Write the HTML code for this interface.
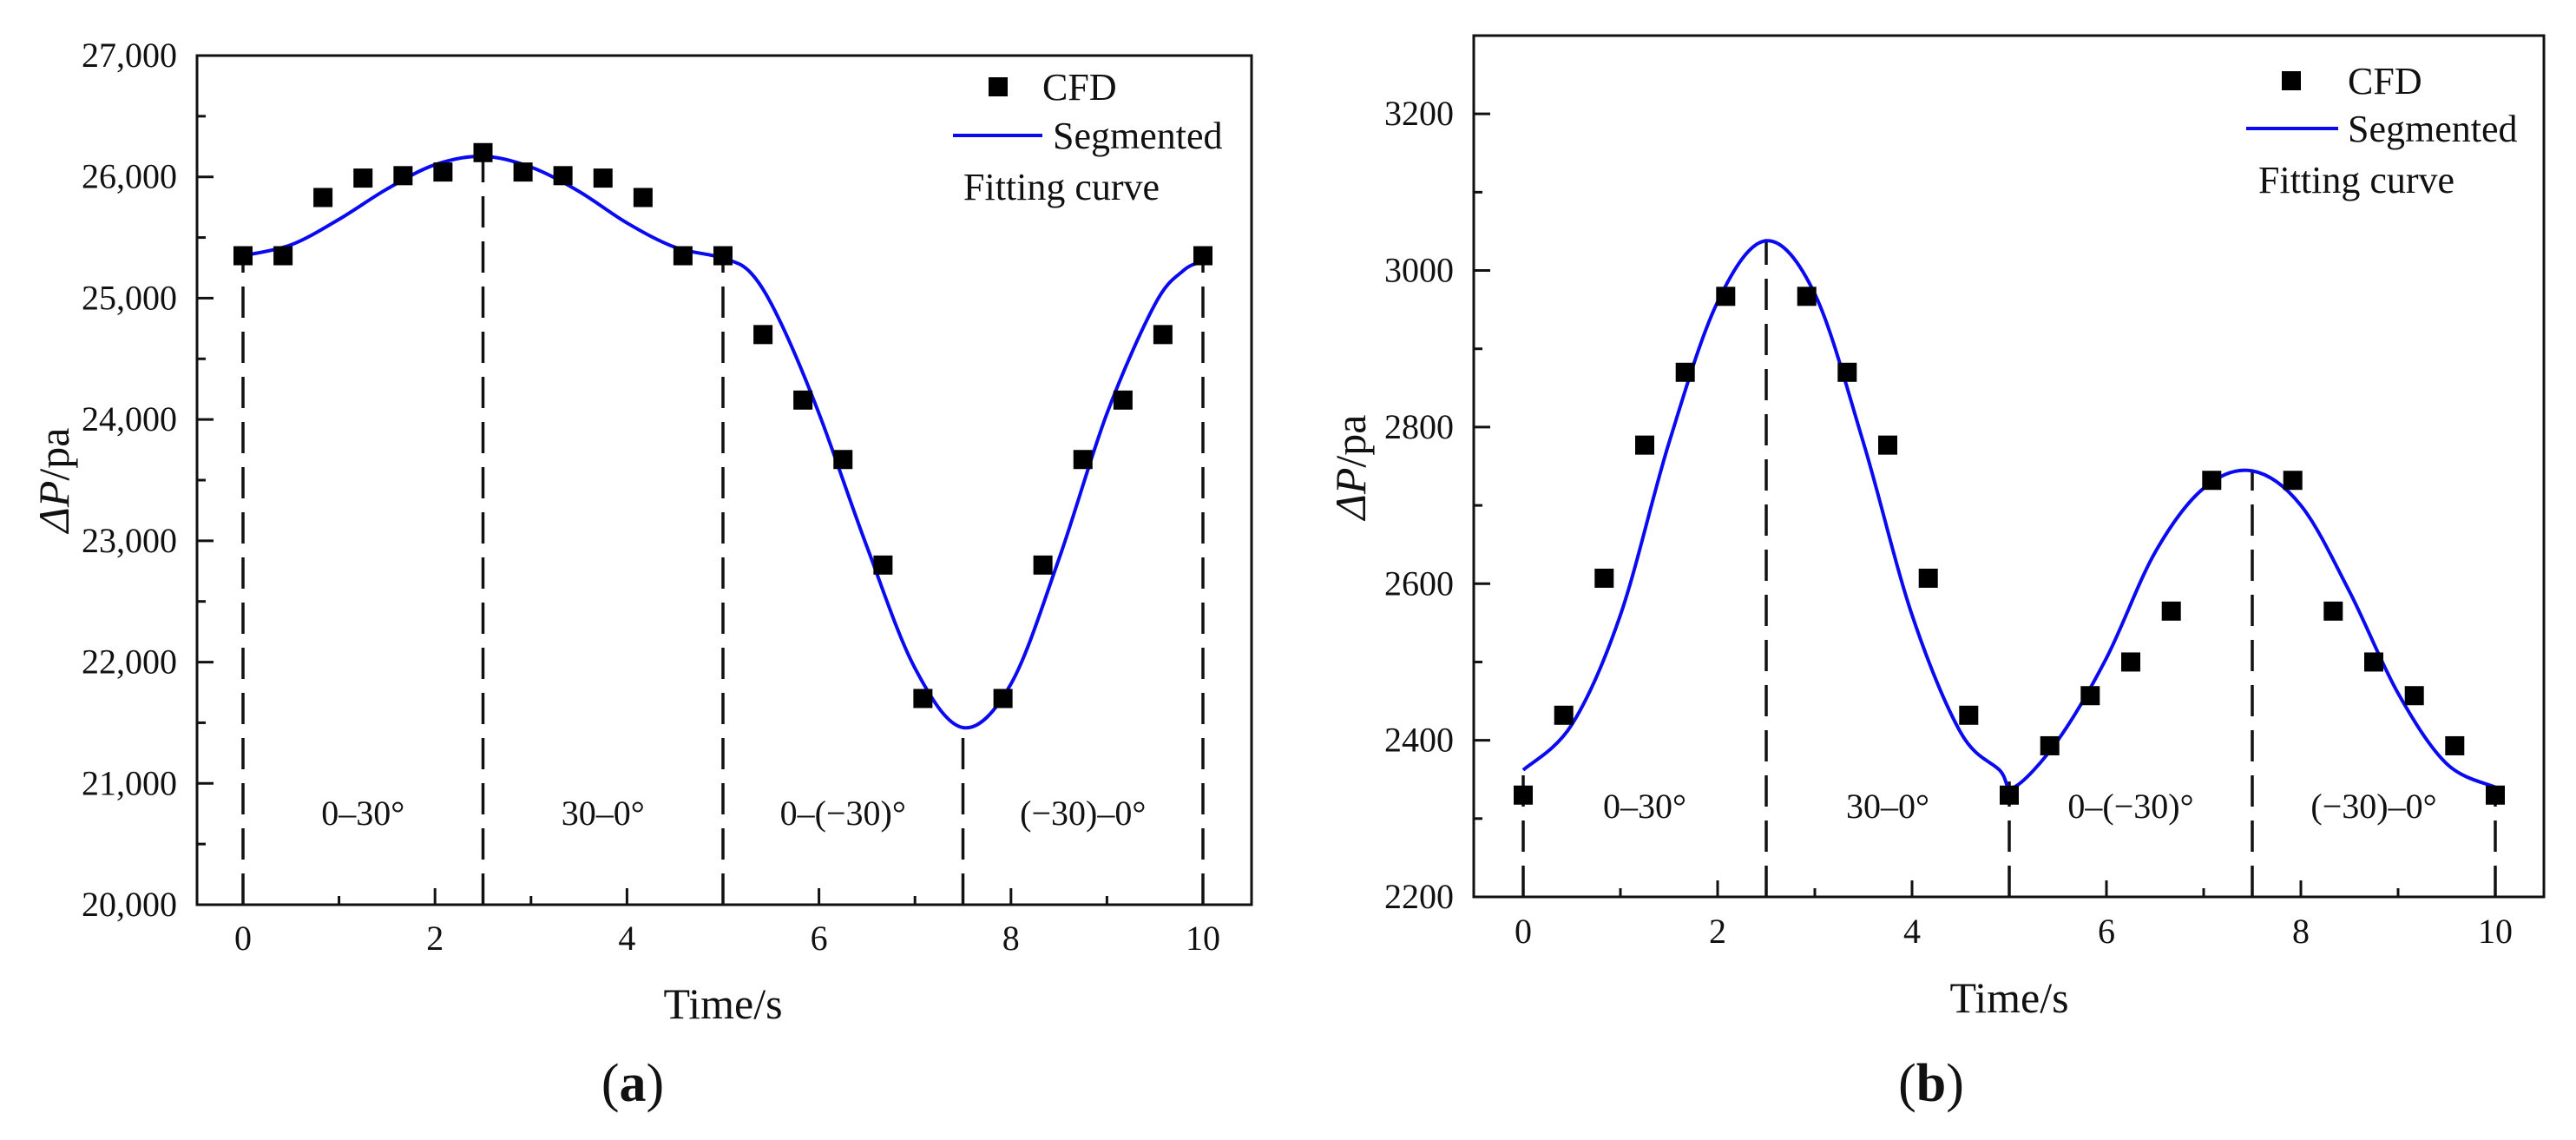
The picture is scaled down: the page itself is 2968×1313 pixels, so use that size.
<!DOCTYPE html>
<html><head><meta charset="utf-8"><style>
html,body{margin:0;padding:0;background:#fff;}
svg{display:block;}
text{font-family:"Liberation Serif","DejaVu Serif",serif;fill:#111;}
</style></head><body>
<svg id="fig" width="2968" height="1313" viewBox="0 0 2968 1313" xmlns="http://www.w3.org/2000/svg"></svg>
<script>
// ---- Panel (a) data ----
const aCfdX = [0,0.417,0.833,1.25,1.667,2.083,2.5,2.917,3.333,3.75,4.167,4.583,5,5.417,5.833,6.25,6.667,7.083,7.917,8.333,8.75,9.167,9.583,10];
const aCfdY = [25350,25350,25830,25990,26010,26040,26200,26040,26010,25990,25830,25350,25350,24700,24160,23670,22800,21700,21700,22800,23670,24160,24700,25350];
const aFitX = [0,0.5,1,1.5,2,2.5,3,3.5,4,4.5,5,5.3,5.6,6,6.5,7,7.5,8,8.5,9,9.5,9.8,10];
const aFitY = [25350,25440,25650,25900,26100,26170,26080,25880,25620,25420,25330,25200,24800,24050,22950,21950,21460,21820,22850,24050,24950,25230,25300];
const aYTicks = [20000,21000,22000,23000,24000,25000,26000,27000];
const aYTickLabels = ["20,000","21,000","22,000","23,000","24,000","25,000","26,000","27,000"];
const aSegLabels = ["0–30°","30–0°","0–(−30)°","(−30)–0°"];
// ---- Panel (b) data ----
const bCfdX = [0,0.417,0.833,1.25,1.667,2.083,2.917,3.333,3.75,4.167,4.583,5,5.417,5.833,6.25,6.667,7.083,7.917,8.333,8.75,9.167,9.583,10];
const bCfdY = [2330,2432,2607,2777,2870,2967,2967,2870,2777,2607,2432,2330,2393,2457,2500,2565,2732,2732,2565,2500,2457,2393,2330];
const bFitX = [0,0.5,1,1.5,2,2.5,3,3.5,4,4.5,4.9,5.05,5.5,6,6.5,7,7.5,8,8.5,9,9.5,10];
const bFitY = [2362,2420,2560,2780,2960,3038,2970,2780,2560,2410,2362,2340,2400,2505,2640,2722,2744,2700,2590,2460,2370,2340];
const bYTicks = [2200,2400,2600,2800,3000,3200];
const bYTickLabels = ["2200","2400","2600","2800","3000","3200"];
const bSegLabels = ["0–30°","30–0°","0–(−30)°","(−30)–0°"];
const xTicks = [0,2,4,6,8,10];
const dividers = [0,2.5,5,7.5,10];

const NS = "http://www.w3.org/2000/svg";
const svg = document.getElementById('fig');
function el(tag, attrs, parent, txt){
  const e = document.createElementNS(NS, tag);
  for (const k in attrs) e.setAttribute(k, attrs[k]);
  if (txt !== undefined) e.textContent = txt;
  (parent||svg).appendChild(e);
  return e;
}
function interp(xs, ys, x){
  for (let i=0;i<xs.length-1;i++){
    if (x>=xs[i] && x<=xs[i+1]) return ys[i]+(ys[i+1]-ys[i])*(x-xs[i])/(xs[i+1]-xs[i]);
  }
  return ys[ys.length-1];
}
function smoothPath(pts){
  let d = "M"+pts[0][0].toFixed(1)+","+pts[0][1].toFixed(1);
  for (let i=0;i<pts.length-1;i++){
    const p0=pts[Math.max(i-1,0)], p1=pts[i], p2=pts[i+1], p3=pts[Math.min(i+2,pts.length-1)];
    const c1=[p1[0]+(p2[0]-p0[0])/6, p1[1]+(p2[1]-p0[1])/6];
    const c2=[p2[0]-(p3[0]-p1[0])/6, p2[1]-(p3[1]-p1[1])/6];
    d += " C"+c1[0].toFixed(1)+","+c1[1].toFixed(1)+" "+c2[0].toFixed(1)+","+c2[1].toFixed(1)+" "+p2[0].toFixed(1)+","+p2[1].toFixed(1);
  }
  return d;
}
function panel(cfg){
  const g = el('g', {});
  
  
  const X = v => cfg.x0 + (v - 0) * (cfg.x10 - cfg.x0) / 10;
  const Y = v => cfg.yB - (v - cfg.ymin) * (cfg.yB - cfg.yT) / (cfg.ymax - cfg.ymin);
  // dividers
  dividers.forEach(dv => {
    const top = Y(interp(cfg.fitX, cfg.fitY, dv));
    const ln = el('line', {x1:X(dv), x2:X(dv), y1:cfg.yB, y2:top, stroke:'#111', 'stroke-width':3.5, 'stroke-dasharray':'36,16'}, g);
    
    
  });
  // fit curve
  const pts = cfg.fitX.map((x,i)=>[X(x), Y(cfg.fitY[i])]);
  const path = el('path', {d:smoothPath(pts), fill:'none', stroke:'#0a0af0', 'stroke-width':4}, g);
  
  
  // cfd markers
  cfg.cfdX.forEach((x,i) => {
    const r = el('rect', {x:X(x)-11, y:Y(cfg.cfdY[i])-11, width:22, height:22, fill:'#000'}, g);
    
    
  });
  // axes frame
  const fr = el('rect', {x:cfg.L, y:cfg.yT, width:cfg.R-cfg.L, height:cfg.yB-cfg.yT, fill:'none', stroke:'#111', 'stroke-width':3}, g);
  
  
  // y ticks
  cfg.yTicks.forEach((v,i) => {
    el('line', {x1:cfg.L, x2:cfg.L+19, y1:Y(v), y2:Y(v), stroke:'#111', 'stroke-width':3}, g);
    const t = el('text', {x:cfg.labX, y:Y(v)+13, 'text-anchor':'end', 'font-size':40}, g, cfg.yTickLabels[i]);
    
    
    if (i < cfg.yTicks.length-1) {
      const m = (v + cfg.yTicks[i+1]) / 2;
      el('line', {x1:cfg.L, x2:cfg.L+10, y1:Y(m), y2:Y(m), stroke:'#111', 'stroke-width':3}, g);
    }
  });
  if (cfg.extraMinor) { const m = cfg.extraMinor; el('line', {x1:cfg.L, x2:cfg.L+10, y1:Y(m), y2:Y(m), stroke:'#111', 'stroke-width':3}, g); }
  // x ticks
  xTicks.forEach((v,i) => {
    el('line', {x1:X(v), x2:X(v), y1:cfg.yB, y2:cfg.yB-19, stroke:'#111', 'stroke-width':3}, g);
    const t = el('text', {x:X(v), y:cfg.xLabY+14, 'text-anchor':'middle', 'font-size':40}, g, String(v));
    
    
    if (i < xTicks.length-1) {
      const m = v + 1;
      el('line', {x1:X(m), x2:X(m), y1:cfg.yB, y2:cfg.yB-10, stroke:'#111', 'stroke-width':3}, g);
    }
  });
  // segment labels
  cfg.segLabels.forEach((s,i) => {
    const t = el('text', {x:X(dividers[i]+1.25), y:cfg.segY+13, 'text-anchor':'middle', 'font-size':40}, g, s);
    
    
  });
  // axis titles
  const xt = el('text', {x:(X(0)+X(10))/2, y:cfg.xTitleY+17, 'text-anchor':'middle', 'font-size':50}, g, 'Time/s');
  
  
  const yt = el('text', {x:0, y:0, 'text-anchor':'middle', 'font-size':50, transform:'translate('+(cfg.yTitleX+17)+','+cfg.yTitleY+') rotate(-90)'}, g);
  
  
  el('tspan', {'font-style':'italic'}, yt, 'ΔP');
  el('tspan', {}, yt, '/pa');
  // legend
  const lg = el('g', {}, g);
  
  
  el('rect', {x:cfg.lgSqX-11, y:cfg.lgSqY-11, width:22, height:22, fill:'#000'}, lg);
  el('text', {x:cfg.lgTxtX, y:cfg.lgSqY+15, 'font-size':44}, lg, 'CFD');
  el('line', {x1:cfg.lgLineX1, x2:cfg.lgLineX2, y1:cfg.lgLineY, y2:cfg.lgLineY, stroke:'#0a0af0', 'stroke-width':4}, lg);
  el('text', {x:cfg.lgSegX, y:cfg.lgLineY+15, 'font-size':44}, lg, 'Segmented');
  el('text', {x:cfg.lgFitX, y:cfg.lgFitY+15, 'font-size':44}, lg, 'Fitting curve');
  // panel letter
  const pl = el('text', {x:cfg.letterX, y:cfg.letterY+20, 'text-anchor':'middle', 'font-size':62}, g);
  
  
  el('tspan', {}, pl, '(');
  el('tspan', {'font-weight':'bold'}, pl, cfg.letter);
  el('tspan', {}, pl, ')');
}
panel({name:'panel-a', L:227, R:1442, yT:64, yB:1042, x0:280, x10:1386, ymin:20000, ymax:27000,
  cfdX:aCfdX, cfdY:aCfdY, fitX:aFitX, fitY:aFitY, yTicks:aYTicks, yTickLabels:aYTickLabels, segLabels:aSegLabels,
  labX:204, xLabY:1080, segY:937, xTitleY:1156, yTitleX:62, yTitleY:553,
  lgSqX:1150, lgSqY:100, lgTxtX:1201, lgLineX1:1098, lgLineX2:1201, lgLineY:156, lgSegX:1213, lgFitX:1110, lgFitY:215,
  letter:'a', letterX:729, letterY:1248});
panel({name:'panel-b', L:1698, R:2931, yT:41, yB:1033, x0:1755, x10:2875, ymin:2200, ymax:3300,
  cfdX:bCfdX, cfdY:bCfdY, fitX:bFitX, fitY:bFitY, yTicks:bYTicks, yTickLabels:bYTickLabels, segLabels:bSegLabels, extraMinor:3300,
  labX:1675, xLabY:1072, segY:929, xTitleY:1149, yTitleX:1556, yTitleY:538,
  lgSqX:2640, lgSqY:93, lgTxtX:2705, lgLineX1:2588, lgLineX2:2694, lgLineY:148, lgSegX:2705, lgFitX:2602, lgFitY:207,
  letter:'b', letterX:2225, letterY:1248});
</script>
</body></html>
